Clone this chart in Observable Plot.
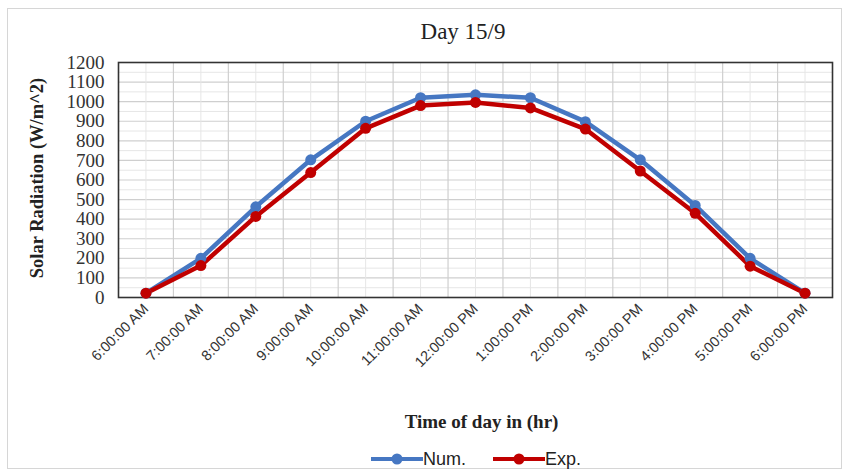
<!DOCTYPE html>
<html>
<head>
<meta charset="utf-8">
<script src="https://cdn.jsdelivr.net/npm/d3@7"></script>
<script src="https://cdn.jsdelivr.net/npm/@observablehq/plot@0.6"></script>
<style>
  html, body { margin: 0; padding: 0; background: #fff; }
  #wrap { position: relative; width: 844px; height: 476px; overflow: hidden; }
  #border { position: absolute; left: 7px; top: 8px; width: 835px; height: 461px; border: 1px solid #d6d6d6; box-sizing: border-box; }
  #title { position: absolute; left: 0; top: 19px; width: 926px; text-align: center; font-family: "Liberation Serif", serif; font-size: 23px; color: #222; }
  #chart { position: absolute; left: 0; top: 0; }
  #legend { position: absolute; top: 447px; left: 0; width: 844px; height: 24px; }
  .lg { position: absolute; top: 0; display: flex; align-items: center; font-family: "Liberation Sans", sans-serif; font-size: 18px; color: #222; }
</style>
</head>
<body>
<div id="wrap">
  <div id="border"></div>
  <div id="chart"></div>
  <div id="title">Day 15/9</div>
  <div id="legend"></div>
</div>
<script>
const times = ["6:00:00 AM","7:00:00 AM","8:00:00 AM","9:00:00 AM","10:00:00 AM","11:00:00 AM","12:00:00 PM","1:00:00 PM","2:00:00 PM","3:00:00 PM","4:00:00 PM","5:00:00 PM","6:00:00 PM"];
const numValues = [22, 200, 463, 703, 900, 1020, 1035, 1020, 898, 703, 470, 200, 22];
const expValues = [22, 163, 414, 638, 864, 980, 996, 968, 860, 646, 430, 160, 22];
const seriesNames = ["Num.", "Exp."];
const seriesColors = ["#4677c2", "#c00000"];
const yTicks = d3.range(0, 1201, 100);
const yMinor = d3.range(50, 1200, 100);

const idx = times.map((t, i) => i);
const bounds = idx.slice(0, -1).map(i => i + 0.5);
const data = [
  ...numValues.map((v, i) => ({i, v, s: "Num."})),
  ...expValues.map((v, i) => ({i, v, s: "Exp."}))
];

const chart = Plot.plot({
  width: 844,
  height: 440,
  marginLeft: 118,
  marginRight: 12,
  marginTop: 62,
  marginBottom: 143,
  x: {type: "linear", domain: [-0.5, times.length - 0.5]},
  y: {domain: [0, 1200]},
  color: {domain: seriesNames, range: seriesColors},
  marks: [
    Plot.ruleY(yMinor, {stroke: "#e6e6e6", strokeWidth: 1}),
    Plot.ruleY(yTicks, {stroke: "#cfcfcf", strokeWidth: 1.2}),
    Plot.ruleX(idx, {stroke: "#e6e6e6", strokeWidth: 1}),
    Plot.ruleX(bounds, {stroke: "#cfcfcf", strokeWidth: 1.2}),
    Plot.frame({stroke: "#333", strokeWidth: 1.6}),
    Plot.axisY({ticks: yTicks, tickFormat: d => String(d), tickSize: 0, tickPadding: 14, label: null,
      fontFamily: "Liberation Serif, serif", fontSize: 19, fill: "#333"}),
    Plot.axisX({ticks: idx, tickFormat: i => times[i], tickSize: 0, tickPadding: 9, tickRotate: -45, label: null,
      fontFamily: "Liberation Sans, sans-serif", fontSize: 14.5, fill: "#333"}),
    Plot.text(["Time of day in (hr)"], {frameAnchor: "bottom", dy: 130, dx: 6,
      fontFamily: "Liberation Serif, serif", fontWeight: "bold", fontSize: 19, fill: "#222"}),
    Plot.text(["Solar Radiation (W/m^2)"], {frameAnchor: "left", textAnchor: "middle", rotate: -90, dx: -81, dy: -2,
      fontFamily: "Liberation Serif, serif", fontWeight: "bold", fontSize: 18.5, fill: "#222"}),
    Plot.line(data, {x: "i", y: "v", z: "s", stroke: "s", strokeWidth: 4.5}),
    Plot.dot(data, {x: "i", y: "v", fill: "s", r: 5.5})
  ]
});
document.getElementById("chart").appendChild(chart);

// Legend
const legend = document.getElementById("legend");
const legendLeft = [371, 493];
seriesNames.forEach((name, k) => {
  const item = document.createElement("div");
  item.className = "lg";
  item.style.left = legendLeft[k] + "px";
  const c = seriesColors[k];
  item.innerHTML = `<svg width="52" height="24"><line x1="0" x2="52" y1="12" y2="12" stroke="${c}" stroke-width="4"/><circle cx="26" cy="12" r="5.5" fill="${c}"/></svg><span>${name}</span>`;
  legend.appendChild(item);
});
</script>
</body>
</html>
